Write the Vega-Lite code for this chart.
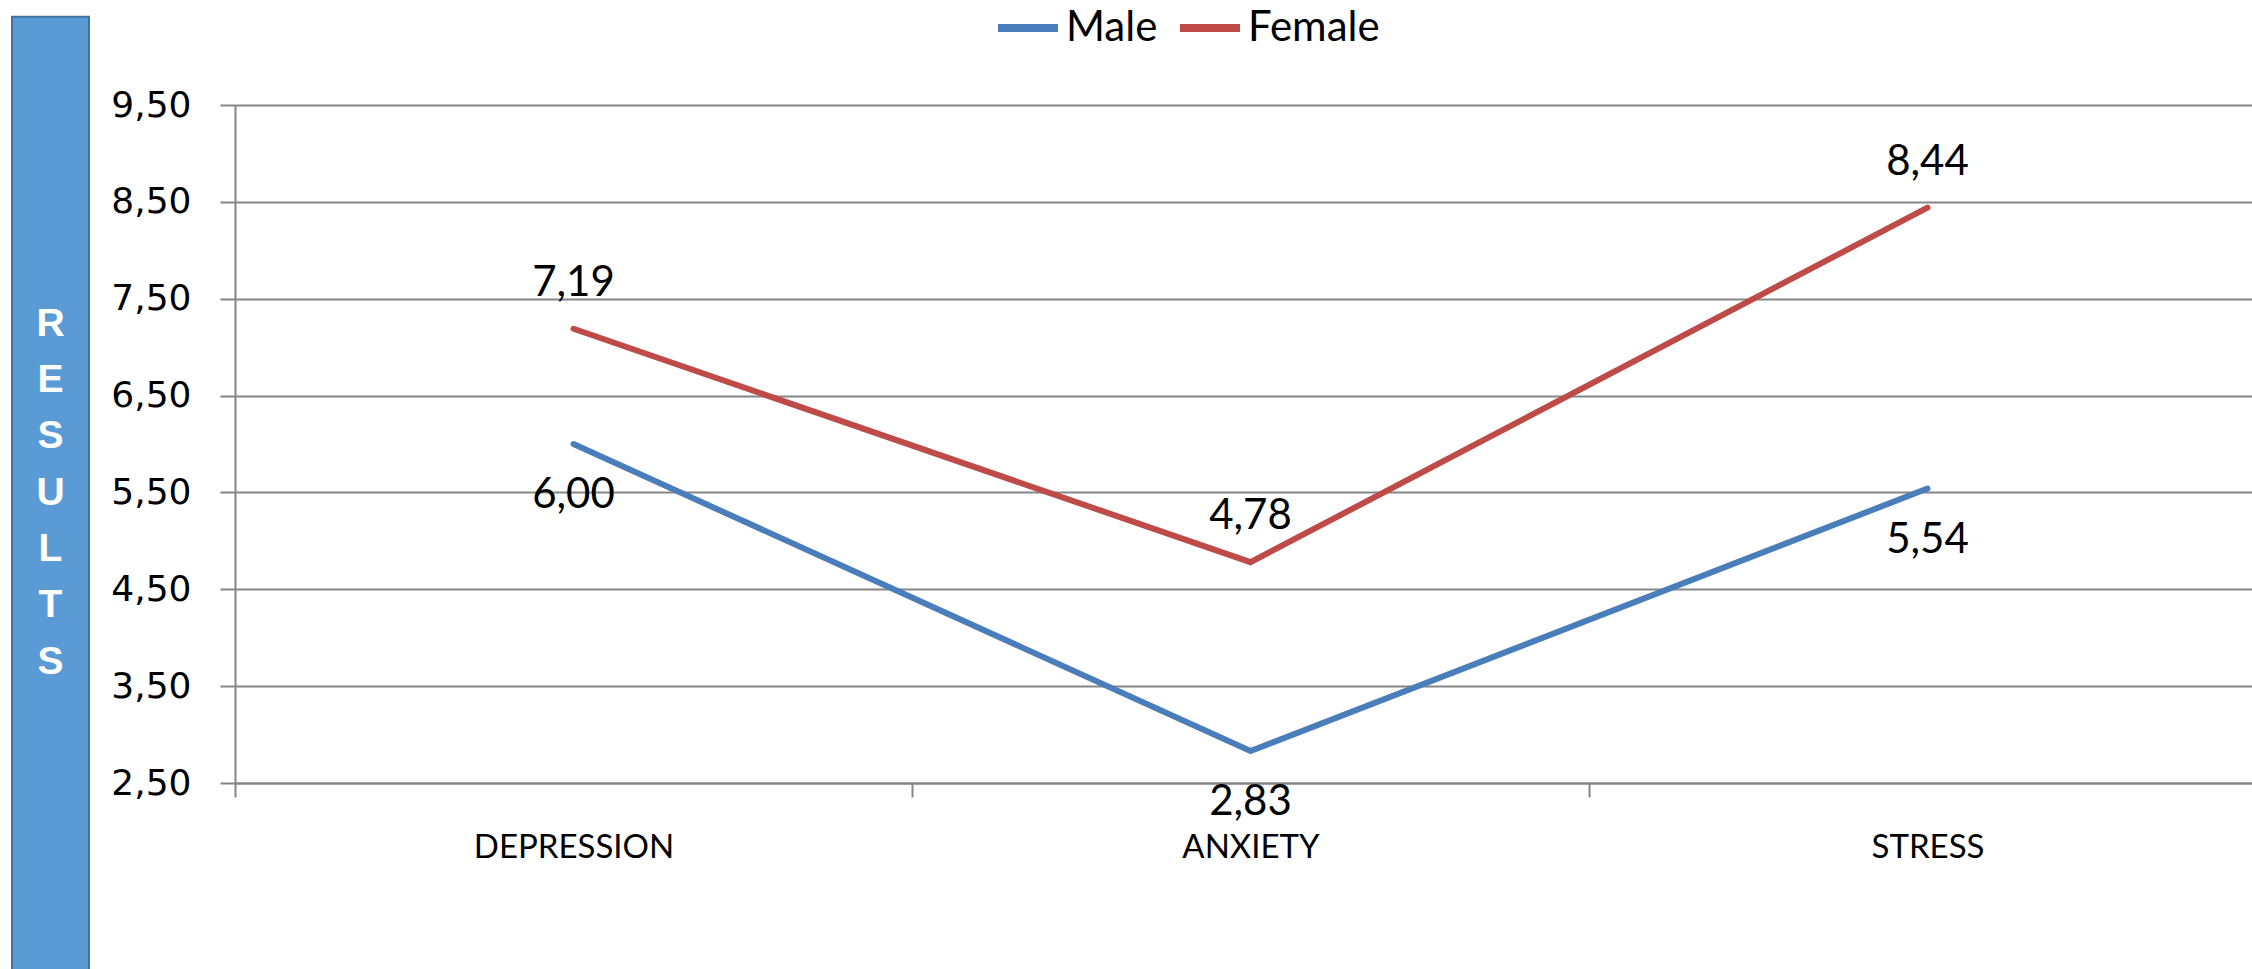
{
  "$schema": "https://vega.github.io/schema/vega-lite/v6.json",
  "padding": {"left": 11, "top": -6, "right": 0, "bottom": 0},
  "background": "white",
  "config": {
    "locale": {"number": {"decimal": ",", "thousands": ".", "grouping": [3], "currency": ["", ""]}},
    "view": {"stroke": null},
    "concat": {"spacing": 146}
  },
  "bounds": "flush",
  "datasets": {
    "scores": [
      {"measure": "Depression", "gender": "Male", "score": 6.00},
      {"measure": "Anxiety", "gender": "Male", "score": 2.83},
      {"measure": "Stress", "gender": "Male", "score": 5.54},
      {"measure": "Depression", "gender": "Female", "score": 7.19},
      {"measure": "Anxiety", "gender": "Female", "score": 4.78},
      {"measure": "Stress", "gender": "Female", "score": 8.44}
    ]
  },
  "hconcat": [
    {
      "width": 77,
      "height": 678,
      "data": {"values": [{"title": "RESULTS"}]},
      "layer": [
        {
          "mark": {"type": "rect", "fill": "#5B9BD5", "stroke": "#41719C", "strokeWidth": 2, "clip": false},
          "encoding": {
            "y": {"datum": 10.41, "type": "quantitative", "scale": {"domain": [2.5, 9.5], "nice": false, "zero": false}, "axis": null},
            "y2": {"datum": 0.3}
          }
        },
        {
          "mark": {"type": "text", "font": "Liberation Sans", "fontWeight": "bold", "fontSize": 39, "color": "white", "lineHeight": 56.3, "baseline": "middle", "align": "center"},
          "encoding": {
            "y": {"datum": 7.24, "type": "quantitative"},
            "text": {"value": ["R", "E", "S", "U", "L", "T", "S"]}
          }
        }
      ]
    },
    {
      "width": 2031,
      "height": 678,
      "data": {"name": "scores"},
      "encoding": {
        "x": {
          "field": "measure", "type": "nominal", "sort": ["Depression", "Anxiety", "Stress"],
          "bandPosition": 0.5,
          "scale": {"type": "band", "paddingInner": 0, "paddingOuter": 0},
          "axis": {
            "title": null, "tickBand": "extent", "labelExpr": "upper(datum.label)",
            "labelFont": "Lato", "labelFontSize": 33, "labelColor": "black", "labelPadding": 34,
            "labelAngle": 0, "labelBaseline": "top", "labelLimit": 0,
            "tickSize": 14, "tickColor": "#868686", "tickWidth": 2,
            "domainColor": "#868686", "domainWidth": 2, "grid": false
          }
        },
        "y": {
          "field": "score", "type": "quantitative",
          "scale": {"domain": [2.5, 9.5], "nice": false, "zero": false},
          "axis": {
            "title": null, "values": [2.5, 3.5, 4.5, 5.5, 6.5, 7.5, 8.5, 9.5], "format": ".2f",
            "labelFont": "DejaVu Sans", "labelFontSize": 36, "labelColor": "black", "labelPadding": 29,
            "tickSize": 15, "tickColor": "#868686", "tickWidth": 2,
            "domainColor": "#868686", "domainWidth": 2,
            "grid": true, "gridColor": "#868686", "gridWidth": 2
          }
        }
      },
      "layer": [
        {
          "mark": {"type": "line", "strokeWidth": 6, "strokeCap": "round"},
          "encoding": {
            "color": {
              "field": "gender", "type": "nominal",
              "scale": {"domain": ["Male", "Female"], "range": ["#4A7EBB", "#BE4B48"]},
              "legend": {
                "title": null, "orient": "none", "legendX": 982, "legendY": -111, "direction": "horizontal",
                "symbolType": "stroke", "symbolSize": 3600, "symbolStrokeWidth": 8,
                "labelFont": "Lato", "labelFontSize": 42, "labelColor": "black", "labelOffset": 4,
                "columnPadding": 6, "padding": 0
              }
            }
          }
        },
        {
          "transform": [{"filter": "datum.gender === 'Female'"}],
          "mark": {"type": "text", "font": "Lato", "fontSize": 42, "baseline": "alphabetic", "dy": -33, "color": "black"},
          "encoding": {"text": {"field": "score", "type": "quantitative", "format": ".2f"}}
        },
        {
          "transform": [{"filter": "datum.gender === 'Male'"}],
          "mark": {"type": "text", "font": "Lato", "fontSize": 42, "baseline": "alphabetic", "dy": 64, "color": "black"},
          "encoding": {"text": {"field": "score", "type": "quantitative", "format": ".2f"}}
        }
      ]
    }
  ]
}
